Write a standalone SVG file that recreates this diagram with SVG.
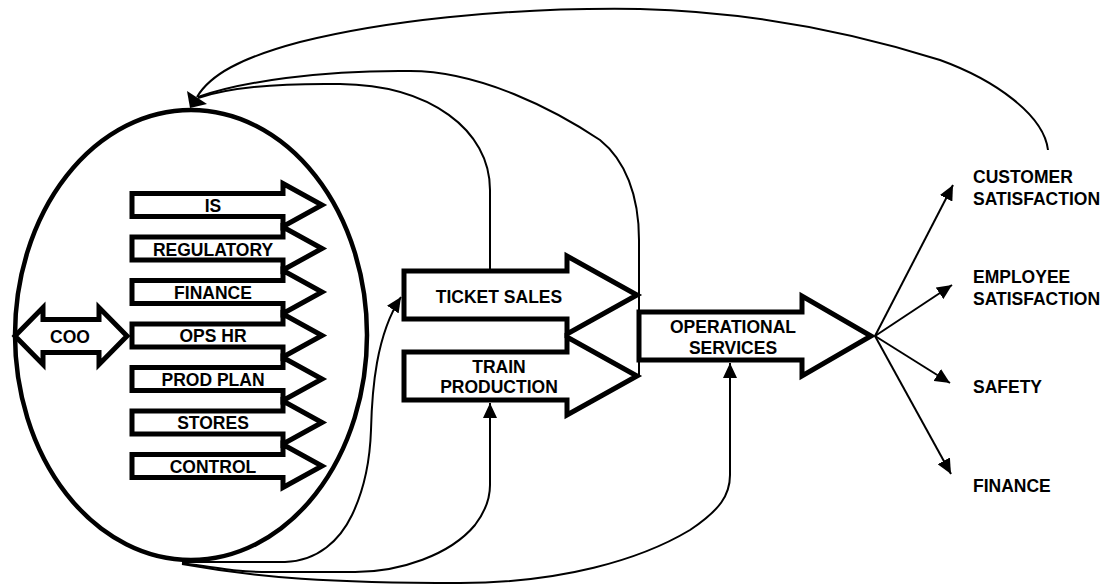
<svg xmlns="http://www.w3.org/2000/svg" width="1109" height="585" viewBox="0 0 1109 585">
<style>
.shape{fill:#fff;stroke:#000;stroke-width:5;stroke-linejoin:miter;stroke-miterlimit:10}
.lbl{font-family:"Liberation Sans",Arial,sans-serif;font-weight:bold;font-size:17.5px;fill:#000;text-anchor:middle}
.lbs{font-family:"Liberation Sans",Arial,sans-serif;font-weight:bold;font-size:17.5px;fill:#000;text-anchor:start}
.conn{fill:none;stroke:#000;stroke-width:2}
</style>
<defs>
<marker id="ah" markerUnits="userSpaceOnUse" markerWidth="16" markerHeight="14" refX="15" refY="7" orient="auto"><path d="M0,0 L15,7 L0,14 Z" fill="#000"/></marker>
<path id="sa" d="M132,-11.5 H283 V-21.5 L322,0 L283,21.5 V11.5 H132 Z"/>
</defs>
<rect width="1109" height="585" fill="#fff"/>

<g id="coo-function">
<ellipse cx="191" cy="335" rx="176" ry="225" fill="none" stroke="#000" stroke-width="4.5"/>
</g>
<g id="coo">
<path class="shape" d="M15,336 L43,307.5 V319.5 H99 V307.5 L127,336 L99,364.5 V352.5 H43 V364.5 Z"/>
<text class="lbl" x="70" y="342.5">COO</text>
</g>
<g id="is"><use href="#sa" class="shape" y="205"/><text class="lbl" x="213" y="211.7">IS</text></g>
<g id="regulatory"><use href="#sa" class="shape" y="248.5"/><text class="lbl" x="213" y="255.5">REGULATORY</text></g>
<g id="finance-dept"><use href="#sa" class="shape" y="292"/><text class="lbl" x="213" y="298.8">FINANCE</text></g>
<g id="ops-hr"><use href="#sa" class="shape" y="335.5"/><text class="lbl" x="213" y="342.3">OPS HR</text></g>
<g id="prod-plan"><use href="#sa" class="shape" y="379"/><text class="lbl" x="213" y="385.8">PROD PLAN</text></g>
<g id="stores"><use href="#sa" class="shape" y="422.5"/><text class="lbl" x="213" y="429.3">STORES</text></g>
<g id="control"><use href="#sa" class="shape" y="466"/><text class="lbl" x="213" y="472.8">CONTROL</text></g>

<g id="ticket-sales">
<path class="shape" d="M404,271 H567 V256 L637,295 L567,334 V319 H404 Z"/>
<text class="lbl" x="499" y="303">TICKET SALES</text>
</g>
<g id="train-production">
<path class="shape" d="M404,352 H567 V337 L637,376 L567,415 V400 H404 Z"/>
<text class="lbl" x="499" y="372.5">TRAIN</text>
<text class="lbl" x="499" y="393">PRODUCTION</text>
</g>
<g id="operational-services">
<path class="shape" d="M639,312 H802 V296 L871,336 L802,376 V360 H639 Z"/>
<text class="lbl" x="733" y="332.5">OPERATIONAL</text>
<text class="lbl" x="733" y="354">SERVICES</text>
</g>

<g id="customer-satisfaction"><text class="lbs" x="973" y="183">CUSTOMER</text><text class="lbs" x="973" y="205">SATISFACTION</text></g>
<g id="employee-satisfaction"><text class="lbs" x="973" y="283">EMPLOYEE</text><text class="lbs" x="973" y="305">SATISFACTION</text></g>
<g id="safety"><text class="lbs" x="973" y="393">SAFETY</text></g>
<g id="finance"><text class="lbs" x="973" y="492">FINANCE</text></g>

<g id="connectors">
<path class="conn" marker-end="url(#ah)" d="M875,336 L953,185"/>
<path class="conn" marker-end="url(#ah)" d="M875,336 L952,285"/>
<path class="conn" marker-end="url(#ah)" d="M875,336 L950,383"/>
<path class="conn" marker-end="url(#ah)" d="M875,336 L951,474"/>
<path class="conn" d="M1048,150 C1044,115 995,80 940,60 C860,35 760,12 640,9 C500,7 380,22 300,42 C240,58 210,75 197,97"/>
<path class="conn" d="M639,376 V240 C639,195 625,160 600,140 C555,110 480,71 410,71 C320,70 240,82 198,97"/>
<path class="conn" d="M490,272 V190 C490,130 430,85 340,84 C270,83 225,89 198,98"/>
<polygon points="190,108 187,91 207,104" fill="#000"/>
<path class="conn" marker-end="url(#ah)" d="M182,562 H285 C318,561 340,540 352,515 C364,490 370,460 371,430 C372,390 376,335 401,297"/>
<path class="conn" marker-end="url(#ah)" d="M182,563 C230,570 240,572 270,572 H355 C400,572 450,555 475,525 C488,508 490,495 490,485 V403"/>
<path class="conn" marker-end="url(#ah)" d="M182,564 C260,578 330,583 460,583 C560,583 640,560 690,530 C720,510 730,495 730,475 V363"/>
</g>
</svg>
